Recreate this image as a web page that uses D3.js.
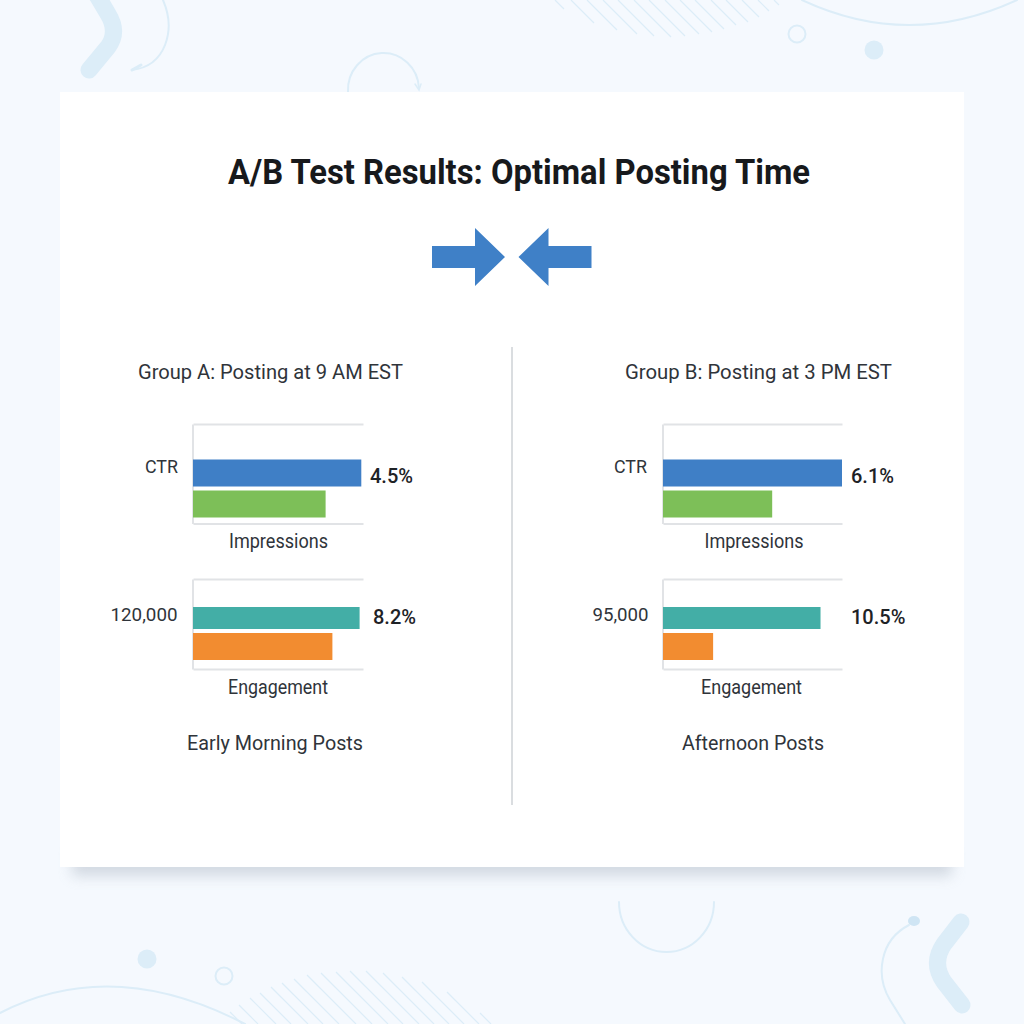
<!DOCTYPE html>
<html>
<head>
<meta charset="utf-8">
<title>A/B Test Results</title>
<script src="https://cdn.jsdelivr.net/npm/d3@7"></script>
<style>
  html, body { margin: 0; padding: 0; background: #f5f9fe; }
  svg { display: block; }
  text { font-family: Roboto, sans-serif; fill: #2f343a; }
</style>
</head>
<body>
<svg id="chart" width="1024" height="1024"></svg>
<script>
// values
const chartTitle = "A/B Test Results: Optimal Posting Time";
const groupTitles = ["Group A: Posting at 9 AM EST", "Group B: Posting at 3 PM EST"];
const captions = ["Early Morning Posts", "Afternoon Posts"];
const chartNames = ["Impressions", "Engagement"];
const barNames = ["first", "second"];
const sideLabelsA = ["CTR", "120,000"];
const sideLabelsB = ["CTR", "95,000"];
const valueLabelsA = ["4.5%", "8.2%"];
const valueLabelsB = ["6.1%", "10.5%"];
// bar length as share of the panel width
const barsA = [[99, 78], [98, 82]];
const barsB = [[100, 61], [88, 28]];

const barColors = [["#3f7fc6", "#7dbf58"], ["#43aea6", "#f28c30"]];
const decoColor = "#dcedf8";
const lineColor = "#e1e3e6";

const svg = d3.select("#chart");

// the original font is narrower than Roboto, so squeeze to the measured width
function squeeze(sel, w) {
  return sel.attr("textLength", w).attr("lengthAdjust", "spacingAndGlyphs");
}

// background decoration
let deco = svg.append("g");

function decoLine(d, w) {
  deco.append("path").attr("d", d).attr("fill", "none")
    .attr("stroke", decoColor).attr("stroke-width", w).attr("stroke-linecap", "round");
}

decoLine("M95,-8 L108,14 Q119,32 108,47 L89,70", 17);
decoLine("M961,922 L944,944 Q931,963 944,982 L962,1005", 17);
decoLine("M163,0 C176,30 166,66 132,70", 2);
decoLine("M132,70 L141,65", 3);
decoLine("M348,92 A35.5,37 0 1 1 419,88", 2);
decoLine("M415,84 L419,90 L421,84", 1.5);
decoLine("M619,902 A47.5,50 0 0 0 714,902", 2);
decoLine("M802,0 Q909,50 1017,0", 2);
decoLine("M0,1013 Q112,955 245,1024", 2);
decoLine("M909,925 C880,940 875,975 890,1000 L905,1024", 2);
deco.append("ellipse").attr("cx", 914).attr("cy", 921).attr("rx", 6).attr("ry", 5).attr("fill", "#cfe5f4");

[[797, 34], [224, 976]].forEach(function (c) {
  deco.append("circle").attr("cx", c[0]).attr("cy", c[1]).attr("r", 8.5)
    .attr("fill", "none").attr("stroke", decoColor).attr("stroke-width", 2);
});
[[874, 50], [147, 959]].forEach(function (c) {
  deco.append("circle").attr("cx", c[0]).attr("cy", c[1]).attr("r", 9.5).attr("fill", decoColor);
});

// hatching, top right
const hatchTop = [[555, 9], [571, 23], [587, 30], [603, 34], [618, 36], [634, 37], [649, 36], [665, 34], [680, 32], [695, 29], [711, 25], [726, 22], [742, 17], [758, 11], [774, 5]];
hatchTop.forEach(function (h) {
  deco.append("line").attr("x1", h[0]).attr("y1", 0).attr("x2", h[0] + h[1]).attr("y2", h[1])
    .attr("stroke", decoColor).attr("stroke-width", 1.2);
});
// hatching, bottom left
const hatchBottom = [[230, 1012], [239, 1005], [250, 998], [260, 993], [271, 987], [282, 983], [294, 979], [307, 975], [321, 973], [336, 972], [350, 971], [366, 971], [383, 973], [402, 977], [422, 982], [447, 992], [480, 1013]];
hatchBottom.forEach(function (h) {
  deco.append("line").attr("x1", h[0]).attr("y1", h[1]).attr("x2", h[0] + (1024 - h[1])).attr("y2", 1024)
    .attr("stroke", decoColor).attr("stroke-width", 1.2);
});

// card + shadow
let defs = svg.append("defs");
defs.append("filter").attr("id", "blur").attr("x", "-10%").attr("y", "-100%").attr("width", "120%").attr("height", "300%")
  .append("feGaussianBlur").attr("stdDeviation", 7);
svg.append("rect").attr("x", 72).attr("y", 850).attr("width", 880).attr("height", 26)
  .attr("fill", "#a3adbb").attr("opacity", 0.42).attr("filter", "url(#blur)");
svg.append("rect").attr("x", 60).attr("y", 92).attr("width", 904).attr("height", 775).attr("fill", "#fff");

squeeze(svg.append("text").text(chartTitle), 582)
  .attr("x", 519).attr("y", 184).attr("text-anchor", "middle")
  .style("font-size", "35px").style("font-weight", 700).style("fill", "#17191c");

// the two arrows under the title
svg.append("path").attr("d", "M432,246 H475 V228 L505,257 L475,286 V268 H432 Z").attr("fill", "#3f80c7");
svg.append("path").attr("d", "M591.5,246 H548.5 V228 L518.5,257 L548.5,286 V268 H591.5 Z").attr("fill", "#3f80c7");

// divider
svg.append("line").attr("x1", 512).attr("x2", 512).attr("y1", 347).attr("y2", 805)
  .attr("stroke", "#dadde0").attr("stroke-width", 2);

// layout for each side
const sides = [
  { bars: barsA, side: sideLabelsA, vals: valueLabelsA, x0: 193, x1: 363, titleX: 270.5, titleW: 265, captionX: 275, captionW: 176,
    sideEnd: [178, 177.5], sideW: [33, 67], valStart: [370, 373], nameX: [278.5, 278], nameW: [99, 100] },
  { bars: barsB, side: sideLabelsB, vals: valueLabelsB, x0: 663, x1: 842, titleX: 758.5, titleW: 267, captionX: 753, captionW: 142,
    sideEnd: [647, 648.5], sideW: [33, 56], valStart: [851, 851], nameX: [754, 751.5], nameW: [99, 101] }
];
const panels = [
  { top: 424, bottom: 523.5, barTops: [459.5, 490.5], heights: [27, 27], sideY: 466, valY: 476, nameY: 541 },
  { top: 579, bottom: 669, barTops: [607, 633], heights: [22, 27], sideY: 614, valY: 617, nameY: 687 }
];

sides.forEach(function (s, si) {
  let g = svg.append("g");

  squeeze(g.append("text").text(groupTitles[si]), s.titleW)
    .attr("x", s.titleX).attr("y", 372).attr("dy", "0.35em").attr("text-anchor", "middle")
    .style("font-size", "21px");

  squeeze(g.append("text").text(captions[si]), s.captionW)
    .attr("x", s.captionX).attr("y", 743).attr("dy", "0.35em").attr("text-anchor", "middle")
    .style("font-size", "21px");

  panels.forEach(function (p, pi) {
    let x = d3.scaleLinear().domain([0, 100]).range([s.x0, s.x1]);
    let y = d3.scalePoint().domain(barNames).range(p.barTops);
    let frameY = d3.scaleLinear().domain([0, 1]).range([p.bottom, p.top]);

    let axes = [
      g.append("g").attr("transform", "translate(0," + p.top + ")").call(d3.axisTop(x).tickValues([]).tickSizeOuter(0)),
      g.append("g").attr("transform", "translate(0," + p.bottom + ")").call(d3.axisBottom(x).tickValues([]).tickSizeOuter(0)),
      g.append("g").attr("transform", "translate(" + (s.x0 - 0.5) + ",0)").call(d3.axisLeft(frameY).tickValues([]).tickSizeOuter(0))
    ];
    axes.forEach(function (a) {
      a.select(".domain").attr("stroke", lineColor).attr("stroke-width", 2);
    });

    g.selectAll(".bar" + pi)
      .data(s.bars[pi])
      .join("rect")
      .attr("class", "bar" + pi)
      .attr("x", x(0))
      .attr("y", function (d, i) { return y(barNames[i]); })
      .attr("width", function (d) { return x(d) - x(0); })
      .attr("height", function (d, i) { return p.heights[i]; })
      .attr("fill", function (d, i) { return barColors[pi][i]; });

    squeeze(g.append("text").text(s.side[pi]), s.sideW[pi])
      .attr("x", s.sideEnd[pi]).attr("y", p.sideY).attr("dy", "0.35em").attr("text-anchor", "end")
      .style("font-size", "19px");

    g.append("text").text(s.vals[pi])
      .attr("x", s.valStart[pi]).attr("y", p.valY).attr("dy", "0.35em")
      .style("font-size", "20px").style("font-weight", 500).style("fill", "#1e2226");

    squeeze(g.append("text").text(chartNames[pi]), s.nameW[pi])
      .attr("x", s.nameX[pi]).attr("y", p.nameY).attr("dy", "0.35em").attr("text-anchor", "middle")
      .style("font-size", "19.5px");
  });
});
</script>
</body>
</html>
